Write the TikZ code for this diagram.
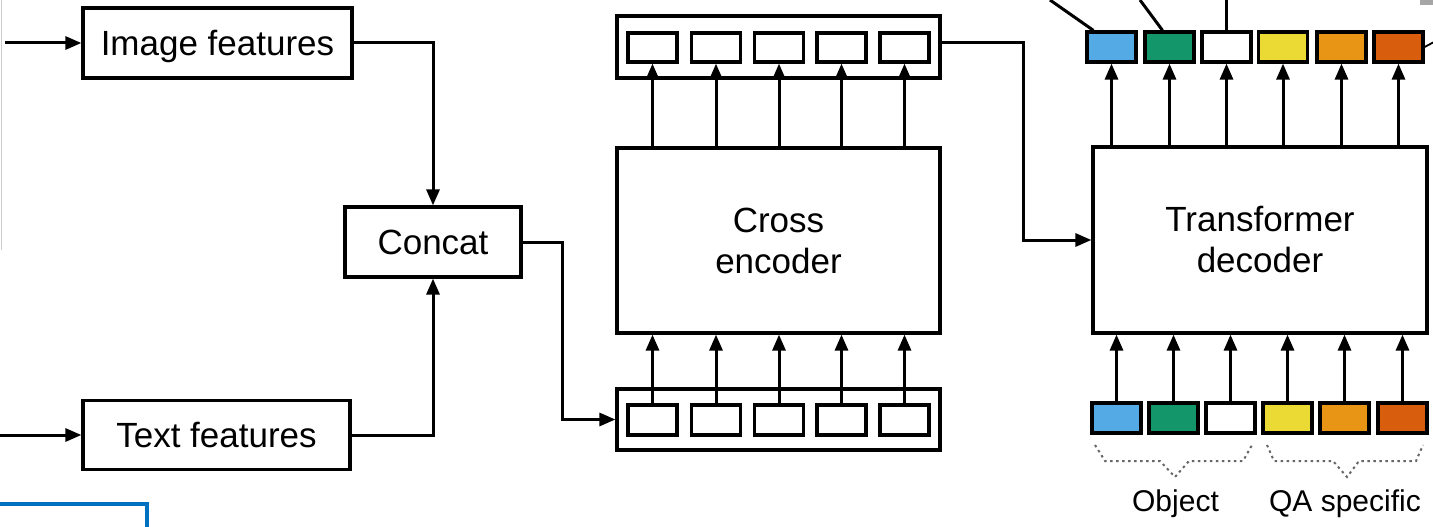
\documentclass[tikz,border=0pt]{standalone}
\usepackage{fontspec}
\setmainfont{Liberation Sans}
\usetikzlibrary{arrows.meta,calc}
\definecolor{tokblue}{RGB}{84,170,228}
\definecolor{tokgreen}{RGB}{18,150,106}
\definecolor{tokyellow}{RGB}{236,218,52}
\definecolor{tokorange}{RGB}{232,148,20}
\definecolor{tokred}{RGB}{216,94,14}
\definecolor{frameblue}{RGB}{0,112,192}
\begin{document}
\begin{tikzpicture}[x=1pt,y=-1pt,
  box/.style={draw, line width=3.2pt, inner sep=0pt, font=\fontsize{35}{41}\selectfont},
  onetext/.style={text height=25pt, text depth=0pt},
  tok/.style={draw, line width=3.2pt, minimum width=49pt, minimum height=30pt, inner sep=0pt},
  arr/.style={line width=3pt, -{Triangle[length=16pt,width=13pt]}},
  wire/.style={line width=3pt},
  brace/.style={line width=2pt, color=black!60, dash pattern=on 2.5pt off 3.5pt},
  caption/.style={font=\fontsize{30}{36}\selectfont, anchor=base, inner sep=0pt},
]
\useasboundingbox (0,0) rectangle (1433,527);

% faint rule on the left and partial frame at the bottom
\draw[gray!40, line width=1.5pt] (1.5,0) -- (1.5,250);
\draw[frameblue, line width=4.5pt] (0,504) -- (147,504) -- (147,530);

% feature inputs
\node[box, onetext, minimum width=269pt, minimum height=70pt] (img) at (217.5,43) {Image features};
\node[box, onetext, minimum width=267pt, minimum height=69pt] (txt) at (216.5,435) {Text features};
\node[box, onetext, minimum width=176pt, minimum height=70pt] (cat) at (433,242) {Concat};

\coordinate (inA) at (5,43);
\coordinate (inB) at (0,435);
\draw[arr] (inA) -- (img.west);
\draw[arr] (inB) -- (txt.west);
\draw[arr] (img.east) -| (cat.north);
\draw[arr] (txt.east) -| (cat.south);

% cross encoder with its token rows
\node[box, minimum width=323pt, minimum height=185pt, align=center] (enc) at (778.5,240.5) {Cross\\encoder};
\node[box, minimum width=323pt, minimum height=62pt] (encout) at (778.5,47) {};
\node[box, minimum width=323pt, minimum height=61pt] (encin) at (778.5,419.5) {};
\foreach \i/\x in {1/652.5,2/716,3/779,4/841.5,5/904.5} {
  \node[tok, minimum height=29pt] (ti\i) at (\x,47.5) {};
  \node[tok] (bi\i) at (\x,420) {};
  \draw[arr] (ti\i.south |- enc.north) -- (ti\i.south);
  \draw[arr] (bi\i.north) -- (bi\i.north |- enc.south);
}
\draw[arr] (cat.east) -- ++(40,0) |- (encin.west);

% transformer decoder with query tokens
\node[box, minimum width=334pt, minimum height=186pt, align=center] (dec) at (1260,240) {Transformer\\decoder};
\draw[arr] ([yshift=4pt]encout.east) -- ++(82,0) |- (dec.west);

\foreach \i/\x/\c in {1/1111.5/tokblue,2/1169.5/tokgreen,3/1226.5/white,4/1283/tokyellow,5/1341.5/tokorange,6/1398.5/tokred} {
  \node[tok, fill=\c] (to\i) at (\x,47) {};
  \draw[arr] (to\i.south |- dec.north) -- (to\i.south);
}
\foreach \i/\x/\c in {1/1116.5/tokblue,2/1173.5/tokgreen,3/1230.5/white,4/1287.5/tokyellow,5/1344.5/tokorange,6/1402.5/tokred} {
  \node[tok, fill=\c] (bo\i) at (\x,418) {};
  \draw[arr] (bo\i.north) -- (bo\i.north |- dec.south);
}

% outputs leaving the top edge
\coordinate (up1) at (1050,0);
\coordinate (up2) at (1140,0);
\coordinate (up3) at (1226.5,0);
\coordinate (side6) at (1434,42);
\draw[wire] ([xshift=8pt]to1.north west) -- (up1);
\draw[wire] ([xshift=-7pt]to2.north) -- (up2);
\draw[wire] (to3.north) -- (up3);
\draw[line width=1.8pt] (to6.east) -- (side6);
\fill[gray!70] (1420,0) rectangle (1433,5);

% grouping braces and their captions
\draw[brace] (1095,445) -- (1105,461) -- (1160,461) -- (1175,477) -- (1189,461) -- (1243,461) -- (1252,445);
\draw[brace] (1267,445) -- (1274,461) -- (1333,461) -- (1347,477) -- (1359,461) -- (1416,461) -- (1423,445);
\node[caption] (lobj) at (1175.5,511) {Object};
\node[caption] (lqa) at (1345,511) {QA specific};
\end{tikzpicture}
\end{document}
